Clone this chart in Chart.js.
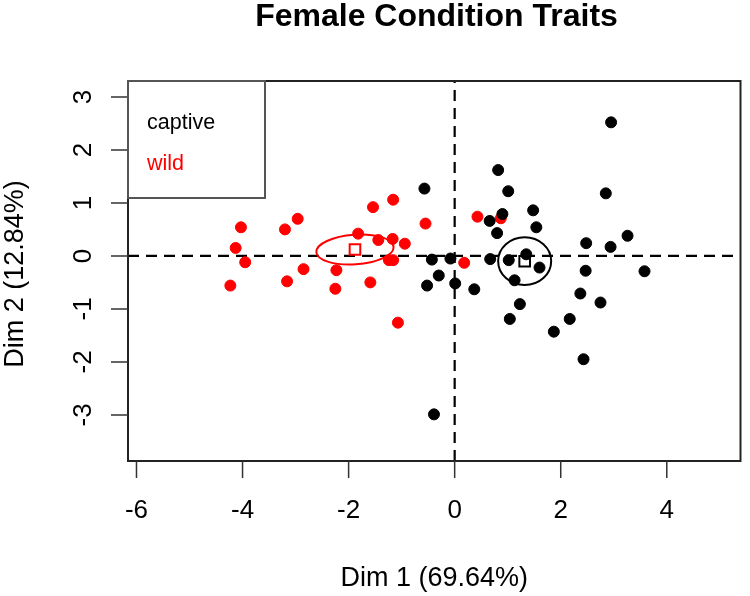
<!DOCTYPE html>
<html>
<head>
<meta charset="utf-8">
<title>Female Condition Traits</title>
<script src="https://cdn.jsdelivr.net/npm/chart.js@4.4.1/dist/chart.umd.min.js"></script>
<style>
  body { margin: 0; background: #fff; }
  canvas { display: block; }
</style>
</head>
<body>
<canvas id="pca-plot" width="750" height="596"></canvas>
<script>
// individuals on Dim 1 / Dim 2
const captiveX = [-0.57, -0.43, -0.08, -0.30, -0.52, 0.01, 0.37, 2.95, 0.82, 1.01, 2.85, 1.48,
                  0.90, 0.66, 1.54, 0.80, 3.26, 2.48, 2.94, 1.35, 0.67, 1.02, 1.60, 2.47,
                  3.58, 1.13, 2.37, 2.75, 1.23, 1.04, 2.17, 1.87, 2.43, -0.39];
const captiveY = [1.27, -0.07, -0.05, -0.37, -0.56, -0.52, -0.63, 2.52, 1.62, 1.22, 1.18, 0.86,
                  0.79, 0.66, 0.54, 0.43, 0.38, 0.24, 0.17, 0.03, -0.06, -0.08, -0.22, -0.28,
                  -0.29, -0.46, -0.71, -0.88, -0.91, -1.19, -1.19, -1.43, -1.95, -2.99];
const wildX = [-4.03, -4.13, -3.95, -4.23, -3.20, -2.96, -2.85, -3.16, -2.25, -2.23, -1.82, -1.59,
               -1.54, -1.16, -1.44, -1.17, -0.94, -1.24, -1.16, -1.07, -0.55, 0.18, 0.43, 0.87];
const wildY = [0.54, 0.15, -0.12, -0.56, 0.50, 0.70, -0.25, -0.48, -0.62, -0.27, 0.42, -0.50,
               0.92, 1.06, 0.30, 0.32, 0.23, -0.08, -0.08, -1.26, 0.61, -0.13, 0.74, 0.71];

// group centres (open squares) and their confidence ellipses
const groups = ["captive", "wild"];
const groupColors = ["#000000", "#ff0000"];
const centroidX = [1.32, -1.88];
const centroidY = [-0.10, 0.12];
const ellipseRx = [0.50, 0.73];   // half width, Dim 1 units
const ellipseRy = [0.45, 0.28];   // half height, Dim 2 units
const ellipseTilt = [0, 4];       // degrees

const xTicks = [-6, -4, -2, 0, 2, 4];
const yTicks = [-3, -2, -1, 0, 1, 2, 3];
const xTitle = "Dim 1 (69.64%)";
const yTitle = "Dim 2 (12.84%)";

const FONT = '"Liberation Sans", Arial, Helvetica, sans-serif';

function pairs(xs, ys) {
    return xs.map((v, i) => ({ x: v, y: ys[i] }));
}

// R-style frame: dashed zero lines, box, ticks, rotated y labels, legend, ellipses
const rFrame = {
    id: 'rFrame',
    beforeDatasetsDraw(chart) {
        const { ctx, chartArea: a, scales: { x, y } } = chart;
        const x0 = x.getPixelForValue(0);
        const y0 = y.getPixelForValue(0);
        ctx.save();
        ctx.strokeStyle = '#000';
        ctx.lineWidth = 2.2;
        ctx.setLineDash([11, 7]);
        ctx.beginPath();
        ctx.moveTo(a.left, y0);
        ctx.lineTo(a.right, y0);
        ctx.moveTo(x0, a.bottom);
        ctx.lineTo(x0, a.top);
        ctx.stroke();
        ctx.restore();
    },
    afterDatasetsDraw(chart) {
        const { ctx, chartArea: a, scales: { x, y } } = chart;
        ctx.save();

        // ellipses
        ctx.lineWidth = 2;
        groups.forEach((g, i) => {
            const cx = x.getPixelForValue(centroidX[i]);
            const cy = y.getPixelForValue(centroidY[i]);
            const rx = x.getPixelForValue(centroidX[i] + ellipseRx[i]) - cx;
            const ry = cy - y.getPixelForValue(centroidY[i] + ellipseRy[i]);
            ctx.strokeStyle = groupColors[i];
            ctx.beginPath();
            ctx.ellipse(cx, cy, rx, ry, -ellipseTilt[i] * Math.PI / 180, 0, 2 * Math.PI);
            ctx.stroke();
        });

        // box
        ctx.strokeStyle = '#222';
        ctx.lineWidth = 2;
        ctx.strokeRect(a.left, a.top, a.right - a.left, a.bottom - a.top);

        // tick marks
        ctx.strokeStyle = '#333';
        ctx.lineWidth = 1.5;
        ctx.beginPath();
        xTicks.forEach(v => {
            const px = x.getPixelForValue(v);
            ctx.moveTo(px, a.bottom);
            ctx.lineTo(px, a.bottom + 17);
        });
        yTicks.forEach(v => {
            const py = y.getPixelForValue(v);
            ctx.moveTo(a.left, py);
            ctx.lineTo(a.left - 17, py);
        });
        ctx.stroke();

        // tick labels
        ctx.fillStyle = '#000';
        ctx.font = '26px ' + FONT;
        ctx.textAlign = 'center';
        ctx.textBaseline = 'middle';
        xTicks.forEach(v => ctx.fillText(String(v), x.getPixelForValue(v), a.bottom + 50));
        yTicks.forEach(v => {
            ctx.save();
            ctx.translate(a.left - 44, y.getPixelForValue(v));
            ctx.rotate(-Math.PI / 2);
            ctx.fillText(String(v), 0, 0);
            ctx.restore();
        });

        // axis titles
        ctx.font = '27px ' + FONT;
        ctx.fillText(xTitle, (a.left + a.right) / 2, a.bottom + 118);
        ctx.save();
        ctx.translate(16, (a.top + a.bottom) / 2 + 3);
        ctx.rotate(-Math.PI / 2);
        ctx.fillText(yTitle, 0, 0);
        ctx.restore();

        // legend box in the top-left corner
        ctx.fillStyle = '#fff';
        ctx.fillRect(a.left, a.top, 137, 117);
        ctx.strokeStyle = '#555';
        ctx.lineWidth = 2;
        ctx.strokeRect(a.left, a.top, 137, 117);
        ctx.font = '21.5px ' + FONT;
        ctx.textAlign = 'left';
        ctx.textBaseline = 'alphabetic';
        groups.forEach((g, i) => {
            ctx.fillStyle = groupColors[i];
            ctx.fillText(g, a.left + 19, a.top + 48 + i * 41);
        });

        ctx.restore();
    }
};

new Chart(document.getElementById('pca-plot'), {
    type: 'scatter',
    data: {
        datasets: [
            {
                label: 'centres',
                data: pairs(centroidX, centroidY),
                pointStyle: 'rect',
                pointRadius: 7.5,
                borderWidth: 2,
                borderColor: groupColors,
                backgroundColor: 'rgba(0,0,0,0)'
            },
            {
                label: groups[0],
                data: pairs(captiveX, captiveY),
                pointRadius: 5.5,
                borderWidth: 1,
                backgroundColor: groupColors[0],
                borderColor: groupColors[0]
            },
            {
                label: groups[1],
                data: pairs(wildX, wildY),
                pointRadius: 5.5,
                borderWidth: 1,
                backgroundColor: groupColors[1],
                borderColor: groupColors[1]
            }
        ]
    },
    options: {
        responsive: false,
        animation: false,
        events: [],
        layout: { padding: { left: 128, right: 5, top: 0, bottom: 135 } },
        scales: {
            x: { type: 'linear', min: -6.16, max: 5.39, display: false },
            y: { type: 'linear', min: -3.87, max: 3.30, display: false }
        },
        plugins: {
            legend: { display: false },
            tooltip: { enabled: false },
            title: {
                display: true,
                text: 'Female Condition Traits',
                color: '#000',
                font: { family: FONT, size: 32, weight: 'bold', lineHeight: 1 },
                padding: { top: 1, bottom: 48 }
            }
        }
    },
    plugins: [rFrame]
});
</script>
</body>
</html>
